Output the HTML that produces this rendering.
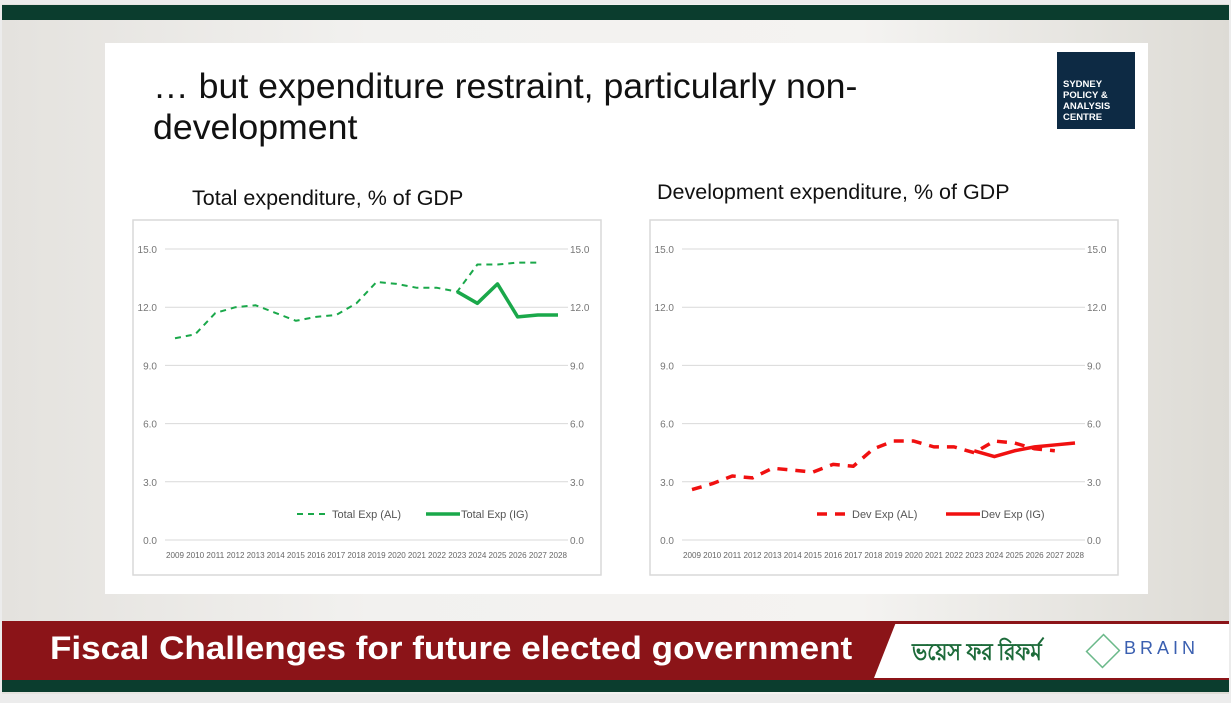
<!DOCTYPE html>
<html><head><meta charset="utf-8"><style>
body{margin:0;width:1231px;height:703px;overflow:hidden;background:#ececec;font-family:"Liberation Sans",sans-serif;position:relative}
div{position:absolute;box-sizing:border-box}
</style></head><body>
<div style="left:2px;top:4px;width:1227px;height:690px;background:linear-gradient(90deg,#e4e2de,#f2f1ef 30%,#f4f3f1 70%,#dddbd5)"></div>
<div style="left:2px;top:5px;width:1227px;height:15px;background:#0b3d2e"></div>
<div style="left:105px;top:43px;width:1043px;height:551px;background:#fff"></div>
<div style="left:153px;top:66px;font-size:35px;line-height:41px;color:#111;width:800px;transform:scaleX(1.02);transform-origin:left">… but expenditure restraint, particularly non-<br>development</div>
<div style="left:1057px;top:52px;width:78px;height:77px;background:#0d2a44;color:#fff;font-size:9.5px;font-weight:bold;line-height:11px;padding:27px 0 0 6px">SYDNEY<br>POLICY &amp;<br>ANALYSIS<br>CENTRE</div>
<div style="left:192px;top:186px;font-size:21.5px;color:#111">Total expenditure, % of GDP</div>
<div style="left:657px;top:180px;font-size:21.5px;color:#111">Development expenditure, % of GDP</div>
<svg style="position:absolute;left:0;top:0" width="1231" height="703" id="svg"></svg>
<div style="left:2px;top:621px;width:1227px;height:60px;background:#8b1418"></div>
<div style="left:874px;top:624px;width:355px;height:54px;background:#fff;clip-path:polygon(6% 0,100% 0,100% 100%,0 100%)"></div>
<div style="left:50px;top:630px;font-size:32px;font-weight:bold;color:#fff;transform:scaleX(1.095);transform-origin:left">Fiscal Challenges for future elected government</div>
<div style="left:912px;top:634px;font-size:24px;font-weight:bold;color:#1d6b3a;font-family:'Liberation Sans','Noto Sans CJK SC',sans-serif;transform:scaleX(0.85);transform-origin:left">ভয়েস ফর রিফর্ম</div>
<div style="left:1087px;top:634px;width:32px;height:34px;border:2px solid #6bb98a;transform:rotate(45deg) scale(.75)"></div>
<div style="left:1124px;top:638px;font-size:18px;letter-spacing:4px;color:#3a5fb0">BRAIN</div>
<div style="left:2px;top:680px;width:1227px;height:12px;background:#0b3d2e"></div>
<script>
const years=[2009,2010,2011,2012,2013,2014,2015,2016,2017,2018,2019,2020,2021,2022,2023,2024,2025,2026,2027,2028];
const ticks=[0,3,6,9,12,15];
const totalAL=[10.4,10.6,11.7,12.0,12.1,11.7,11.3,11.5,11.6,12.2,13.3,13.2,13.0,13.0,12.8,14.2,14.2,14.3,14.3,null];
const totalIG=[null,null,null,null,null,null,null,null,null,null,null,null,null,null,12.8,12.2,13.2,11.5,11.6,11.6];
const devAL=[2.6,2.9,3.3,3.2,3.7,3.6,3.5,3.9,3.8,4.7,5.1,5.1,4.8,4.8,4.5,5.1,5.0,4.7,4.6,null];
const devIG=[null,null,null,null,null,null,null,null,null,null,null,null,null,null,4.6,4.3,4.6,4.8,4.9,5.0];
const svg=document.getElementById('svg');const NS='http://www.w3.org/2000/svg';
function mk(t,a,txt){const e=document.createElementNS(NS,t);for(const k in a)e.setAttribute(k,a[k]);if(txt!==undefined)e.textContent=txt;svg.appendChild(e);return e;}
function chart(o){
 const x=i=>o.x0+i*(o.x1-o.x0)/(years.length-1);
 const y=v=>540-v*(291/15);
 const box=mk('rect',{x:o.bx,y:220,width:o.bw,height:355,fill:'#fff',stroke:'#d9d9d9','stroke-width':1.5});
 
 ticks.forEach(t=>{
  const g=mk('line',{x1:o.gx0,x2:o.gx1,y1:y(t),y2:y(t),stroke:'#d9d9d9','stroke-width':1});
  
  const l=mk('text',{x:o.gx0-8,y:y(t)+4,'font-size':10,fill:'#777','text-anchor':'end'},t.toFixed(1));
  
  const r=mk('text',{x:o.gx1+2,y:y(t)+4,'font-size':10,fill:'#777'},t.toFixed(1));
  
 });
 years.forEach((yr,i)=>{const t=mk('text',{x:x(i),y:558,'font-size':8,fill:'#666','text-anchor':'middle',textLength:18,lengthAdjust:'spacingAndGlyphs'},yr);
  });
 function line(d,dash,w,name){let p='';d.forEach((v,i)=>{if(v==null)return;p+=(p?'L':'M')+x(i)+','+y(v);});
  const e=mk('path',{d:p,fill:'none',stroke:o.color,'stroke-width':w,'stroke-dasharray':dash,'stroke-linejoin':'round'});
  }
 line(o.al,o.dash,o.wd,o.name+'-al-line');line(o.ig,'',o.ws,o.name+'-ig-line');
 const lg=o.lx;
 let e=mk('line',{x1:lg,x2:lg+33,y1:514,y2:514,stroke:o.color,'stroke-width':o.wd,'stroke-dasharray':o.dash});
 e=mk('text',{x:lg+35,y:518,'font-size':11,fill:'#555'},o.l1);
 e=mk('line',{x1:lg+129,x2:lg+163,y1:514,y2:514,stroke:o.color,'stroke-width':o.ws});
 e=mk('text',{x:lg+164,y:518,'font-size':11,fill:'#555'},o.l2);
}
chart({name:'total',bx:133,bw:468,x0:175,x1:558,gx0:165,gx1:568,al:totalAL,ig:totalIG,color:'#1aa84a',dash:'6 5',wd:2,ws:3.5,lx:297,l1:'Total Exp (AL)',l2:'Total Exp (IG)'});
chart({name:'dev',bx:650,bw:468,x0:692,x1:1075,gx0:682,gx1:1085,al:devAL,ig:devIG,color:'#f01010',dash:'10 8',wd:3.5,ws:3.5,lx:817,l1:'Dev Exp (AL)',l2:'Dev Exp (IG)'});
</script>
</body></html>
